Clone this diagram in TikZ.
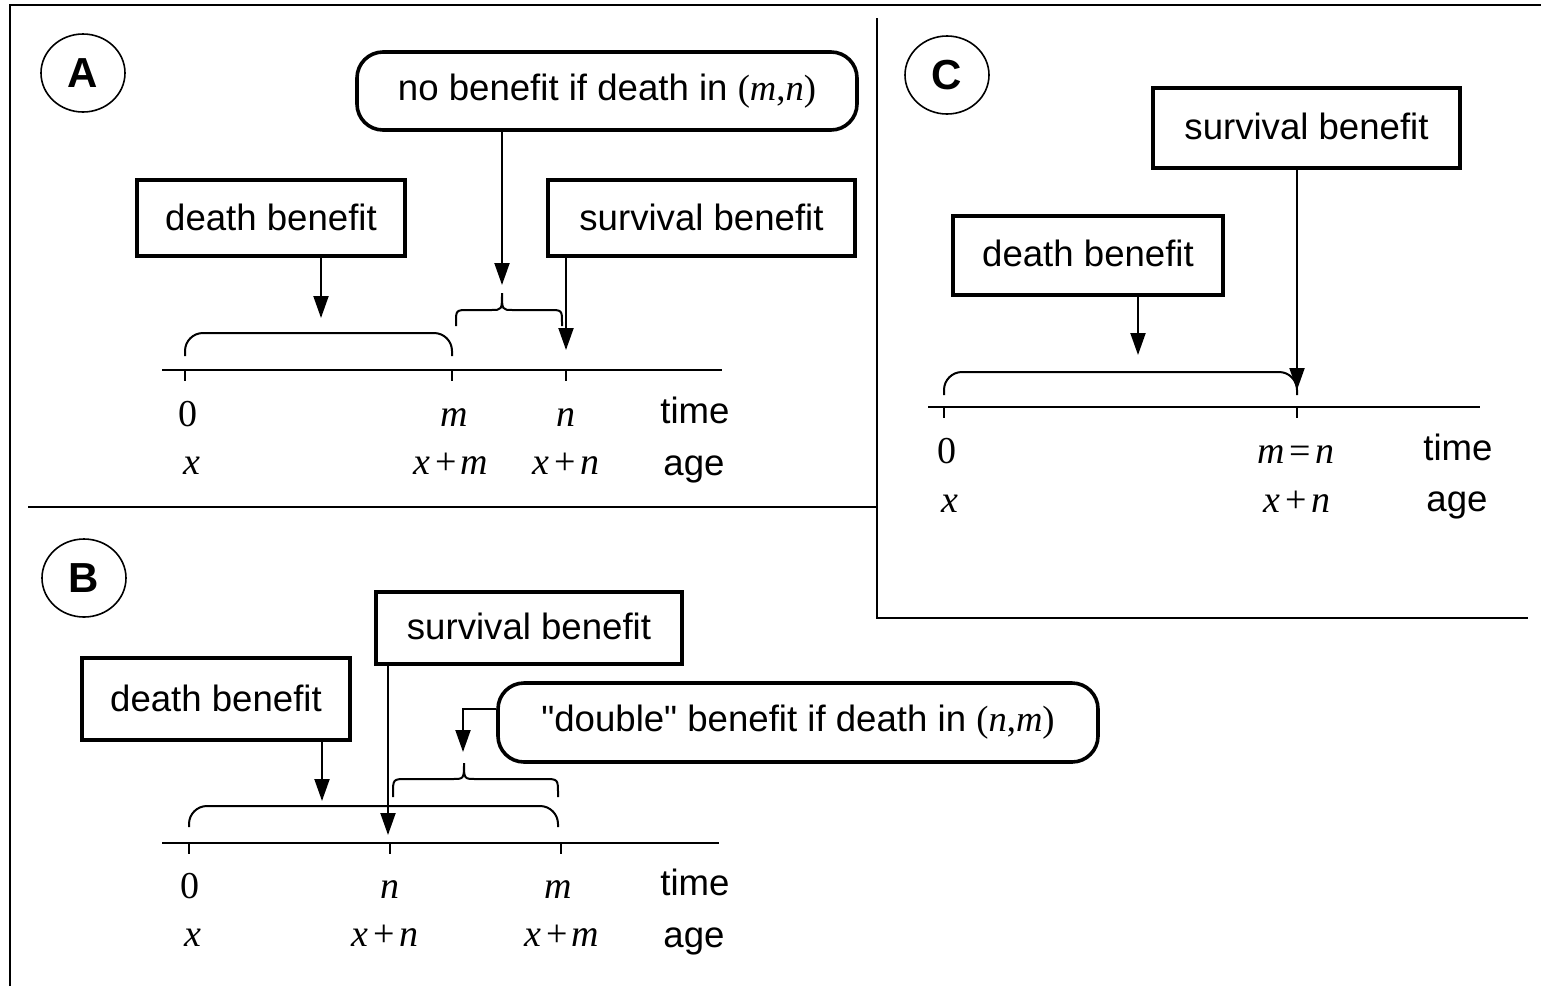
\documentclass[tikz,border=0pt]{standalone}
\usepackage{fontspec}
\setmainfont{Liberation Sans}[Ligatures=TeXOff]
\newfontfamily\tms{Liberation Serif}
\usetikzlibrary{arrows.meta,shapes.geometric}

% italic variable, upright serif symbol, binary operator with spacing
\newcommand\vi[1]{{\tms\itshape #1}}
\newcommand\vr[1]{{\tms #1}}
\newcommand\bop[1]{\hspace{0.12em}{\tms #1}\hspace{0.12em}}

\begin{document}
\begin{tikzpicture}[x=0.5pt,y=-0.5pt,
  txt/.style={font=\fontsize{18.3}{22}\selectfont, inner sep=0pt},
  box/.style={txt, draw, line width=1.8pt, rectangle},
  rbox/.style={txt, draw, line width=1.8pt, rectangle, rounded corners=13pt},
  arr/.style={line width=1pt, -{Triangle[width=7.5pt,length=11pt]}},
  axis/.style={line width=1pt},
  tick/.style={line width=0.7pt},
  brk/.style={line width=1pt},
  frame/.style={line width=1pt},
  lab/.style={font=\fontsize{19}{22}\selectfont\tms, inner sep=0pt, anchor=base},
  word/.style={txt, anchor=base},
  tag/.style={draw, ellipse, line width=0.8pt, minimum width=42pt, minimum height=39pt,
              inner sep=0pt, font=\fontsize{21}{24}\selectfont\bfseries}
]
\useasboundingbox (0,0) rectangle (1541,986);

% outer frame and panel dividers
\draw[frame] (10,986) -- (10,5) -- (1541,5);
\draw[frame] (28,507) -- (877,507);
\draw[frame] (877,18) -- (877,618) -- (1528,618);

% ---------------- panel A ----------------
\node[tag] (tA) at (83,73) {A};
\node[rbox, minimum width=250pt, minimum height=39pt] (nbA) at (607,91)
  {\raisebox{1pt}{no benefit if death in \vr{(}\vi{m}\vr{,}\vi{n}\vr{)}}};
\node[box, minimum width=134pt, minimum height=38pt] (dbA) at (271,218) {\raisebox{1pt}{death benefit}};
\node[box, minimum width=153.5pt, minimum height=38pt] (sbA) at (701.5,218) {\raisebox{1pt}{survival benefit}};

\coordinate (a0) at (185,370);
\coordinate (am) at (452,370);
\coordinate (an) at (566,370);
\draw[axis] (162,370) -- (722,370);
\foreach \p in {a0,am,an} \draw[tick] (\p) -- ++(0,11);

\draw[brk, rounded corners=9pt] (185,356) -- (185,333) -- (452,333) -- (452,356);
\coordinate (tipA) at (502,293);
\draw[brk] (456,326) -- (456,323) .. controls (456,310) .. (469,310) -- (491,310)
  .. controls (502,310) .. (tipA) .. controls (502,310) .. (513,310) -- (549,310)
  .. controls (562,310) .. (562,323) -- (562,326);

\coordinate (eA1) at (321,318);
\coordinate (eA2) at (502,285);
\coordinate (eA3) at (566,350);
\draw[arr] (dbA.south -| eA1) -- (eA1);
\draw[arr] (nbA.south -| eA2) -- (eA2);
\draw[arr] (sbA.south -| eA3) -- (eA3);

\node[lab] (lA0) at (188,426) {0};
\node[lab] (lAm) at (454,426) {\vi{m}};
\node[lab] (lAn) at (566,426) {\vi{n}};
\node[word] (lAt) at (695,423) {time};
\node[lab] (lAx) at (192,474) {\vi{x}};
\node[lab] (lAxm) at (451,474) {\vi{x}\bop{+}\vi{m}};
\node[lab] (lAxn) at (566,474) {\vi{x}\bop{+}\vi{n}};
\node[word] (lAa) at (694,475) {age};

% ---------------- panel B ----------------
\node[tag] (tB) at (84,578) {B};
\node[box, minimum width=153pt, minimum height=36pt] (sbB) at (529,628) {\raisebox{2pt}{survival benefit}};
\node[box, minimum width=134pt, minimum height=41pt] (dbB) at (216,699) {\raisebox{1pt}{death benefit}};
\node[rbox, minimum width=300pt, minimum height=39.5pt] (dbl) at (798,722.5)
  {"double" benefit if death in \vr{(}\vi{n}\vr{,}\vi{m}\vr{)}};

\coordinate (b0) at (189,843);
\coordinate (bn) at (390,843);
\coordinate (bm) at (561,843);
\draw[axis] (162,843) -- (719,843);
\foreach \p in {b0,bn,bm} \draw[tick] (\p) -- ++(0,11);

\draw[brk, rounded corners=9pt] (189,827) -- (189,806) -- (558,806) -- (558,827);
\coordinate (tipB) at (464,763);
\draw[brk] (393,797) -- (393,794) .. controls (393,779) .. (407,779) -- (452,779)
  .. controls (464,779) .. (tipB) .. controls (464,779) .. (476,779) -- (544,779)
  .. controls (558,779) .. (558,794) -- (558,797);

\coordinate (eB1) at (322,801);
\coordinate (eB2) at (388,835);
\coordinate (eB3) at (463,752);
\coordinate (kB) at (463,709);
\draw[arr] (dbB.south -| eB1) -- (eB1);
\draw[arr] (sbB.south -| eB2) -- (eB2);
\draw[arr] (dbl.west |- kB) -- (kB) -- (eB3);

\node[lab] (lB0) at (190,898) {0};
\node[lab] (lBn) at (390,898) {\vi{n}};
\node[lab] (lBm) at (558,898) {\vi{m}};
\node[word] (lBt) at (695,895) {time};
\node[lab] (lBx) at (193,946) {\vi{x}};
\node[lab] (lBxn) at (385,946) {\vi{x}\bop{+}\vi{n}};
\node[lab] (lBxm) at (562,946) {\vi{x}\bop{+}\vi{m}};
\node[word] (lBa) at (694,947) {age};

% ---------------- panel C ----------------
\node[tag] (tC) at (947,75) {C};
\node[box, minimum width=153.5pt, minimum height=40pt] (sbC) at (1306.5,128) {\raisebox{2pt}{survival benefit}};
\node[box, minimum width=135pt, minimum height=39.5pt] (dbC) at (1088,255.5) {\raisebox{2pt}{death benefit}};

\coordinate (c0) at (944,407);
\coordinate (cn) at (1297,407);
\draw[axis] (928,407) -- (1480,407);
\foreach \p in {c0,cn} \draw[tick] (\p) -- ++(0,11);

\draw[brk, rounded corners=9pt] (944,395) -- (944,372) -- (1297,372) -- (1297,395);

\coordinate (eC1) at (1138,355);
\coordinate (eC2) at (1297,390);
\draw[arr] (dbC.south -| eC1) -- (eC1);
\draw[arr] (sbC.south -| eC2) -- (eC2);

\node[lab] (lC0) at (947,463) {0};
\node[lab] (lCmn) at (1296,463) {\vi{m}\bop{=}\vi{n}};
\node[word] (lCt) at (1458,460) {time};
\node[lab] (lCx) at (950,512) {\vi{x}};
\node[lab] (lCxn) at (1297,512) {\vi{x}\bop{+}\vi{n}};
\node[word] (lCa) at (1457,511) {age};
\end{tikzpicture}
\end{document}
